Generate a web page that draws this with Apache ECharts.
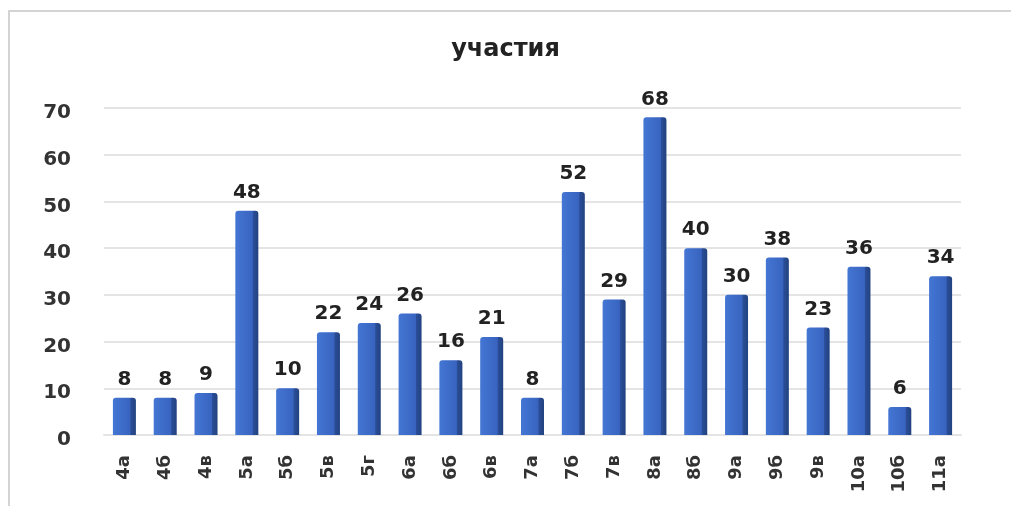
<!DOCTYPE html>
<html>
<head>
<meta charset="utf-8">
<script src="https://cdn.jsdelivr.net/npm/echarts@6/dist/echarts.min.js"></script>
<style>
  html, body { margin: 0; padding: 0; background: #fff; }
  #chart { width: 1011px; height: 506px; }
</style>
</head>
<body>
<div id="chart"></div>
<script>
var classes = ['4а', '4б', '4в', '5а', '5б', '5в', '5г', '6а', '6б', '6в', '7а',
               '7б', '7в', '8а', '8б', '9а', '9б', '9в', '10а', '10б', '11а'];
var participation = [8, 8, 9, 48, 10, 22, 24, 26, 16, 21, 8, 52, 29, 68, 40, 30, 38, 23, 36, 6, 34];
var yTicks = [0, 10, 20, 30, 40, 50, 60, 70];

var myChart = echarts.init(document.getElementById('chart'));

// bar face with a darker side strip, to look a bit like the 3d columns
var barColor = {
    type: 'linear', x: 0, y: 0, x2: 1, y2: 0,
    colorStops: [
        { offset: 0, color: '#4476d4' },
        { offset: 0.74, color: '#3864bf' },
        { offset: 0.78, color: '#2a4d98' },
        { offset: 1, color: '#22427f' }
    ]
};

var option = {
    animation: false,
    title: {
        text: 'участия',
        left: 'center',
        top: 33,
        textStyle: { fontFamily: 'DejaVu Sans', fontWeight: 'bold', fontSize: 24, color: '#222' }
    },
    graphic: [{
        type: 'polyline',
        shape: { points: [[9, 506], [9, 11], [1011, 11]] },
        style: { stroke: '#d4d4d4', lineWidth: 2, fill: null }
    }],
    grid: { left: 104, right: 50, top: 108, bottom: 71 },
    xAxis: {
        type: 'category',
        data: classes,
        axisLine: { show: true, lineStyle: { color: '#e4e4e4', width: 2 } },
        axisTick: { show: false },
        axisLabel: {
            rotate: 90,
            margin: 20,
            fontFamily: 'DejaVu Sans',
            fontWeight: 'bold',
            fontSize: 18,
            color: '#333'
        }
    },
    yAxis: {
        type: 'value',
        min: yTicks[0],
        max: yTicks[yTicks.length - 1],
        interval: 10,
        axisLine: { show: false },
        axisTick: { show: false },
        splitLine: { lineStyle: { color: '#e4e4e4', width: 2 } },
        axisLabel: {
            margin: 33,
            verticalAlign: 'top',
            padding: [-5, 0, 0, 0],
            fontFamily: 'DejaVu Sans',
            fontWeight: 'bold',
            fontSize: 20,
            color: '#333'
        }
    },
    series: [{
        type: 'bar',
        data: participation,
        barWidth: 23,
        itemStyle: { color: barColor, borderRadius: [3, 3, 0, 0] },
        label: {
            show: true,
            position: 'top',
            distance: 8,
            fontFamily: 'DejaVu Sans',
            fontWeight: 'bold',
            fontSize: 20,
            color: '#222'
        }
    }]
};
myChart.setOption(option);
</script>
</body>
</html>
